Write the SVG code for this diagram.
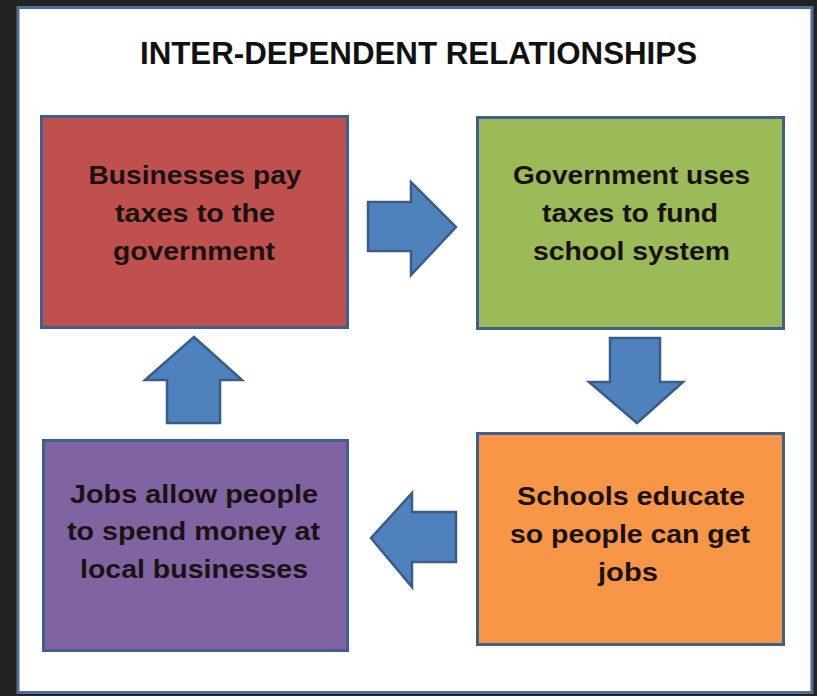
<svg xmlns="http://www.w3.org/2000/svg" width="817" height="696" viewBox="0 0 817 696">
<style>
.box{stroke:#3f5f8c;stroke-width:3}
.arrow{fill:#4f81bd;stroke:#385d8a;stroke-width:2.5;stroke-linejoin:miter}
.lbl{font-family:"Liberation Sans",Arial,sans-serif;font-weight:bold;font-size:26px;fill:#1a1212;text-anchor:middle}
.title{font-family:"Liberation Sans",Arial,sans-serif;font-weight:bold;font-size:31px;fill:#111;text-anchor:middle}
</style>
<rect x="0" y="0" width="817" height="696" fill="#222222"/>
<rect x="18" y="7.5" width="794" height="685" fill="#ffffff" stroke="#4f6d96" stroke-width="3"/>
<text class="title" x="418.5" y="64" textLength="557" lengthAdjust="spacingAndGlyphs">INTER-DEPENDENT RELATIONSHIPS</text>

<g id="node-businesses">
<rect class="box" x="41.5" y="116.5" width="306" height="211" fill="#c0504d"/>
<text class="lbl" x="195" y="184" textLength="213" lengthAdjust="spacingAndGlyphs">Businesses pay</text>
<text class="lbl" x="195" y="222" textLength="160" lengthAdjust="spacingAndGlyphs">taxes to the</text>
<text class="lbl" x="194" y="260" textLength="162" lengthAdjust="spacingAndGlyphs">government</text>
</g>

<g id="node-government">
<rect class="box" x="477.5" y="117.5" width="306" height="211" fill="#9bbb59"/>
<text class="lbl" x="631.5" y="184" textLength="237" lengthAdjust="spacingAndGlyphs">Government uses</text>
<text class="lbl" x="630" y="222" textLength="176" lengthAdjust="spacingAndGlyphs">taxes to fund</text>
<text class="lbl" x="631.5" y="260" textLength="197" lengthAdjust="spacingAndGlyphs">school system</text>
</g>

<g id="node-schools">
<rect class="box" x="477.5" y="433.5" width="306" height="211" fill="#f79646"/>
<text class="lbl" x="631" y="505" textLength="228" lengthAdjust="spacingAndGlyphs">Schools educate</text>
<text class="lbl" x="630" y="543" textLength="240" lengthAdjust="spacingAndGlyphs">so people can get</text>
<text class="lbl" x="628" y="581" textLength="60" lengthAdjust="spacingAndGlyphs">jobs</text>
</g>

<g id="node-jobs">
<rect class="box" x="43.5" y="440.5" width="304" height="210" fill="#8064a2"/>
<text class="lbl" x="194" y="503" textLength="248" lengthAdjust="spacingAndGlyphs">Jobs allow people</text>
<text class="lbl" x="193.5" y="540" textLength="253" lengthAdjust="spacingAndGlyphs">to spend money at</text>
<text class="lbl" x="194" y="578" textLength="228" lengthAdjust="spacingAndGlyphs">local businesses</text>
</g>

<g id="connectors">
<polygon class="arrow" points="368,202 411,202 411,182 456,227 411,275 411,251 368,251"/>
<polygon class="arrow" points="610,338 660,338 660,382 683,382 637,423 589,382 610,382"/>
<polygon class="arrow" points="456,512 412,512 412,493 371,538 412,587 412,562 456,562"/>
<polygon class="arrow" points="167,423 167,380 145,380 194,337 242,380 220,380 220,423"/>
</g>
</svg>
